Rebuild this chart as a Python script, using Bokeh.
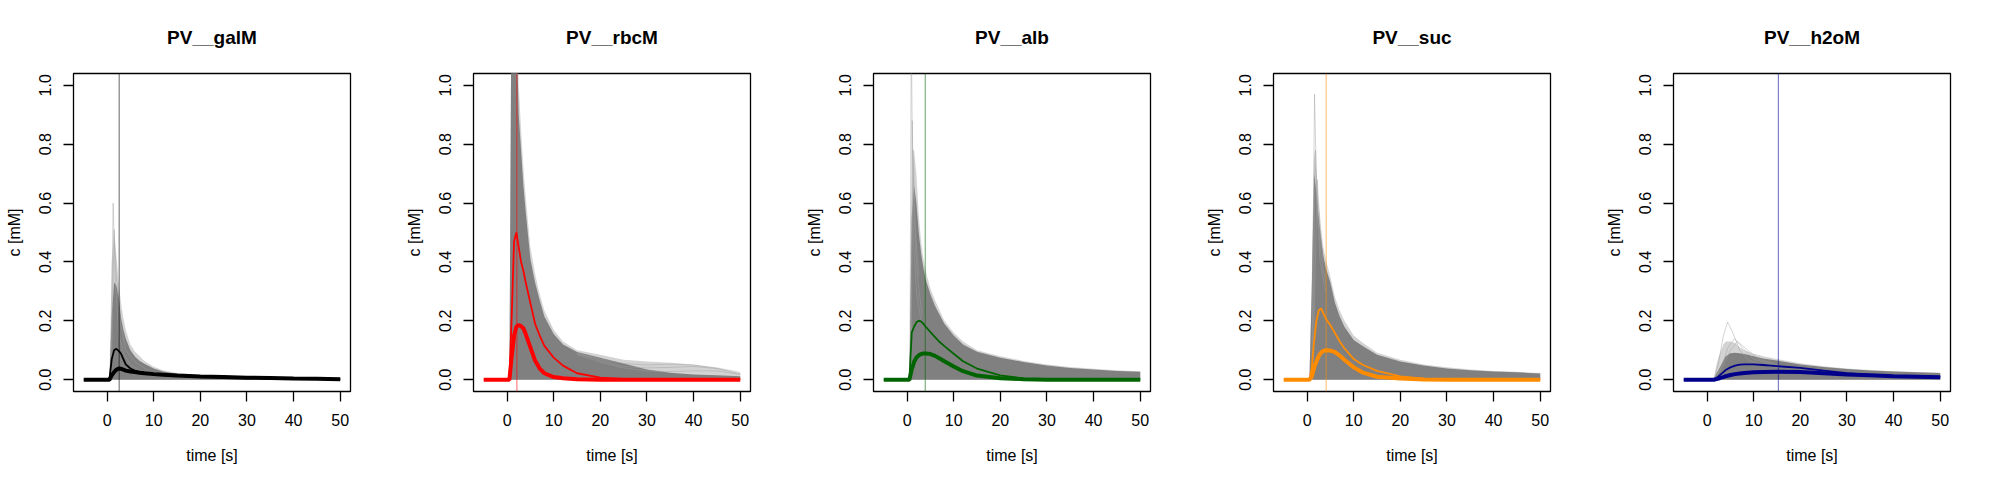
from bokeh.plotting import figure
from bokeh.layouts import row
from bokeh.models import Range1d, FixedTicker, PrintfTickFormatter, Span
from bokeh.embed import file_html
from bokeh.resources import INLINE

# shared time grid [s]
T = [-5, 0, 0.5, 1, 1.5, 2, 2.5, 3, 3.5, 4, 5, 6, 7, 8, 10, 12, 15, 20, 25, 30, 35, 40, 45, 50]

NAMES = ["PV__galM", "PV__rbcM", "PV__alb", "PV__suc", "PV__h2oM"]
COLORS = ["black", "red", "darkgreen", "darkorange", "darkblue"]
MARK_T = [2.6, 2.1, 3.9, 4.1, 15.3]

X_TICKS = [0, 10, 20, 30, 40, 50]
Y_TICKS = [0.0, 0.2, 0.4, 0.6, 0.8, 1.0]

# ---- PV__galM ----
galM_outer = [0, 0, 0, 0.40, 0.50, 0.42, 0.33, 0.26, 0.21, 0.17, 0.12, 0.095, 0.08, 0.064, 0.044, 0.032, 0.023, 0.016, 0.012, 0.010, 0.008, 0.007, 0.006, 0.005]
galM_dense = [0, 0, 0, 0.22, 0.33, 0.32, 0.28, 0.21, 0.17, 0.14, 0.10, 0.078, 0.064, 0.054, 0.038, 0.028, 0.020, 0.014, 0.011, 0.009, 0.007, 0.006, 0.005, 0.004]
galM_thin = [0, 0, 0, 0.07, 0.10, 0.105, 0.098, 0.088, 0.070, 0.052, 0.038, 0.030, 0.026, 0.023, 0.019, 0.016, 0.013, 0.010, 0.008, 0.006, 0.004, 0.003, 0.002, 0.001]
galM_thick = [0, 0, 0, 0.015, 0.026, 0.034, 0.038, 0.037, 0.034, 0.031, 0.028, 0.026, 0.024, 0.022, 0.019, 0.017, 0.014, 0.011, 0.009, 0.007, 0.006, 0.004, 0.003, 0.002]
galM_spikes_t = [[0.8, 1.3, 1.8, 2.5, 3.5, 5, 8], [0.9, 1.5, 2.0, 2.8, 4, 6, 9]]
galM_spikes_v = [[0, 0.60, 0.32, 0.16, 0.09, 0.05, 0.025], [0, 0.51, 0.35, 0.20, 0.10, 0.06, 0.03]]

# ---- PV__rbcM ----
rbcM_outer = [0, 0, 0, 1.5, 1.5, 1.5, 1.0, 0.85, 0.72, 0.62, 0.45, 0.36, 0.29, 0.235, 0.17, 0.13, 0.10, 0.085, 0.068, 0.062, 0.058, 0.052, 0.040, 0.022]
rbcM_dense = [0, 0, 0, 1.5, 1.5, 1.2, 0.90, 0.78, 0.66, 0.57, 0.41, 0.33, 0.27, 0.215, 0.155, 0.12, 0.094, 0.075, 0.055, 0.035, 0.024, 0.018, 0.015, 0.012]
rbcM_thin = [0, 0, 0, 0.22, 0.47, 0.50, 0.45, 0.40, 0.37, 0.33, 0.26, 0.19, 0.15, 0.115, 0.075, 0.048, 0.022, 0.007, 0.003, 0.001, 0, 0, 0, 0]
rbcM_thick = [0, 0, 0, 0.08, 0.15, 0.18, 0.186, 0.182, 0.175, 0.155, 0.11, 0.065, 0.038, 0.022, 0.009, 0.005, 0.002, 0, 0, 0, 0, 0, 0, 0]
rbcM_spikes_t = [[15, 20, 25, 30, 35, 40, 45, 50], [15, 20, 25, 30, 35, 40, 45, 50], [15, 20, 25, 30, 35, 40, 45, 50]]
rbcM_spikes_v = [[0.09, 0.07, 0.055, 0.050, 0.053, 0.050, 0.040, 0.025],
                 [0.09, 0.065, 0.045, 0.040, 0.042, 0.045, 0.038, 0.020],
                 [0.085, 0.060, 0.040, 0.030, 0.028, 0.030, 0.030, 0.018]]

# ---- PV__alb ----
alb_outer = [0, 0, 0, 0.60, 0.78, 0.70, 0.56, 0.47, 0.41, 0.37, 0.31, 0.27, 0.235, 0.20, 0.16, 0.13, 0.10, 0.08, 0.064, 0.052, 0.043, 0.037, 0.032, 0.029]
alb_dense = [0, 0, 0, 0.55, 0.66, 0.60, 0.50, 0.43, 0.38, 0.34, 0.29, 0.25, 0.22, 0.19, 0.15, 0.12, 0.095, 0.075, 0.06, 0.048, 0.04, 0.035, 0.03, 0.027]
alb_thin = [0, 0, 0, 0.16, 0.18, 0.195, 0.20, 0.198, 0.19, 0.18, 0.162, 0.145, 0.128, 0.114, 0.088, 0.063, 0.038, 0.015, 0.004, 0.001, 0, 0, 0, 0]
alb_thick = [0, 0, 0, 0.035, 0.06, 0.075, 0.083, 0.087, 0.089, 0.089, 0.087, 0.081, 0.072, 0.063, 0.045, 0.029, 0.014, 0.005, 0.002, 0, 0, 0, 0, 0]
alb_spikes_t = [[0.6, 0.9, 1.3, 2, 3], [0.7, 1.1, 1.5, 2.2, 3.2], [0.8, 1.3, 1.8, 2.5]]
alb_spikes_v = [[0, 1.2, 0.5, 0.3, 0.2], [0, 0.88, 0.55, 0.35, 0.22], [0, 0.78, 0.5, 0.35]]

# ---- PV__suc ----
suc_outer = [0, 0, 0, 0.35, 0.78, 0.70, 0.60, 0.52, 0.45, 0.41, 0.35, 0.28, 0.235, 0.20, 0.15, 0.125, 0.092, 0.068, 0.052, 0.042, 0.035, 0.030, 0.027, 0.023]
suc_dense = [0, 0, 0, 0.30, 0.70, 0.64, 0.55, 0.48, 0.42, 0.38, 0.33, 0.26, 0.215, 0.18, 0.135, 0.114, 0.085, 0.062, 0.048, 0.038, 0.032, 0.028, 0.025, 0.021]
suc_thin = [0, 0, 0, 0.04, 0.13, 0.20, 0.235, 0.242, 0.225, 0.208, 0.185, 0.158, 0.13, 0.107, 0.07, 0.05, 0.03, 0.011, 0.004, 0.002, 0, 0, 0, 0]
suc_thick = [0, 0, 0, 0.01, 0.04, 0.062, 0.08, 0.092, 0.098, 0.10, 0.099, 0.094, 0.082, 0.068, 0.042, 0.024, 0.01, 0.004, 0.001, 0, 0, 0, 0, 0]
suc_spikes_t = [[1.0, 1.6, 2.1, 2.8, 4], [1.1, 1.8, 2.3, 3, 4], [1.2, 2.2, 2.8, 3.5]]
suc_spikes_v = [[0, 0.97, 0.6, 0.4, 0.3], [0, 0.78, 0.55, 0.42, 0.33], [0, 0.68, 0.5, 0.4]]

# ---- PV__h2oM ----
h2oM_outer = [0, 0, 0, 0, 0.01, 0.05, 0.08, 0.10, 0.12, 0.13, 0.13, 0.125, 0.11, 0.10, 0.088, 0.08, 0.07, 0.056, 0.046, 0.038, 0.033, 0.029, 0.026, 0.024]
h2oM_dense = [0, 0, 0, 0, 0.005, 0.02, 0.035, 0.05, 0.065, 0.08, 0.09, 0.092, 0.09, 0.087, 0.08, 0.072, 0.065, 0.052, 0.043, 0.036, 0.031, 0.028, 0.025, 0.023]
h2oM_thin = [0, 0, 0, 0, 0.001, 0.006, 0.012, 0.019, 0.026, 0.033, 0.042, 0.048, 0.051, 0.052, 0.052, 0.050, 0.046, 0.040, 0.031, 0.022, 0.016, 0.012, 0.011, 0.010]
h2oM_thick = [0, 0, 0, 0, 0, 0.002, 0.004, 0.007, 0.009, 0.012, 0.016, 0.019, 0.021, 0.023, 0.025, 0.026, 0.027, 0.026, 0.022, 0.018, 0.015, 0.012, 0.010, 0.008]
h2oM_spikes_t = [[1.5, 2.5, 3.5, 4.4, 5.5, 7, 9, 12, 16], [1.5, 3, 4.5, 5.9, 7.5, 10, 14], [1.5, 3.5, 5, 6.5, 8, 11, 15]]
h2oM_spikes_v = [[0, 0.06, 0.15, 0.196, 0.16, 0.10, 0.065, 0.05, 0.04], [0, 0.04, 0.11, 0.14, 0.11, 0.07, 0.05], [0, 0.05, 0.10, 0.13, 0.11, 0.07, 0.05]]

PANELS = [
    (galM_outer, galM_dense, galM_thin, galM_thick, galM_spikes_t, galM_spikes_v),
    (rbcM_outer, rbcM_dense, rbcM_thin, rbcM_thick, rbcM_spikes_t, rbcM_spikes_v),
    (alb_outer, alb_dense, alb_thin, alb_thick, alb_spikes_t, alb_spikes_v),
    (suc_outer, suc_dense, suc_thin, suc_thick, suc_spikes_t, suc_spikes_v),
    (h2oM_outer, h2oM_dense, h2oM_thin, h2oM_thick, h2oM_spikes_t, h2oM_spikes_v),
]

FONT = "Liberation Sans"
FRAME_W, FRAME_H = 277, 318
LEFT = 73
figs = []
for i, (name, col, mt, data) in enumerate(zip(NAMES, COLORS, MARK_T, PANELS)):
    outer, dense, thin, thick, sp_t, sp_v = data
    total_w = 400 if i < 4 else 384
    p = figure(frame_width=FRAME_W, frame_height=FRAME_H, output_backend="svg", toolbar_location=None,
               x_range=Range1d(-7.2, 52.2), y_range=Range1d(-0.04, 1.04),
               min_border_left=LEFT, min_border_right=total_w - FRAME_W - LEFT,
               min_border_top=73, min_border_bottom=93, title=name)
    p.title.align = "center"
    p.title.vertical_align = "middle"
    p.title.text_font = FONT
    p.title.text_font_size = "19px"
    p.title.text_font_style = "bold"
    p.title.text_color = "black"
    p.title.standoff = 50
    p.outline_line_color = "black"
    p.outline_line_width = 1.3
    p.xgrid.visible = False
    p.ygrid.visible = False
    p.background_fill_color = "white"
    p.border_fill_color = "white"

    p.varea(x=T, y1=[0] * len(T), y2=outer, fill_color="#b5b5b5", fill_alpha=0.6)
    p.varea(x=T, y1=[0] * len(T), y2=dense, fill_color="#808080", fill_alpha=1.0)
    p.multi_line(xs=sp_t, ys=sp_v, line_color="#a0a0a0", line_alpha=0.45, line_width=1)
    p.line(T, thin, line_color=col, line_width=1.8)
    p.line(T, thick, line_color=col, line_width=4)
    p.add_layout(Span(location=mt, dimension="height", line_color=col, line_alpha=0.5, line_width=1.2))

    p.xaxis.ticker = FixedTicker(ticks=X_TICKS)
    p.yaxis.ticker = FixedTicker(ticks=Y_TICKS)
    p.yaxis.formatter = PrintfTickFormatter(format="%.1f")
    p.yaxis.major_label_orientation = "vertical"
    p.xaxis.axis_label = "time [s]"
    p.yaxis.axis_label = "c [mM]"
    for ax in (p.xaxis, p.yaxis):
        ax.axis_line_color = None
        ax.minor_tick_line_color = None
        ax.major_tick_in = 0
        ax.major_tick_out = 10
        ax.major_tick_line_color = "black"
        ax.major_tick_line_width = 1.3
        ax.major_label_text_font = FONT
        ax.major_label_text_font_size = "16px"
        ax.major_label_text_color = "black"
        ax.axis_label_text_font = FONT
        ax.axis_label_text_font_size = "16px"
        ax.axis_label_text_font_style = "normal"
        ax.axis_label_text_color = "black"
    p.xaxis.major_label_standoff = 12
    p.xaxis.axis_label_standoff = 18
    p.yaxis.major_label_standoff = 12
    p.yaxis.axis_label_standoff = 14
    figs.append(p)

layout = row(*figs)
open("out.html", "w").write(file_html(layout, INLINE))
